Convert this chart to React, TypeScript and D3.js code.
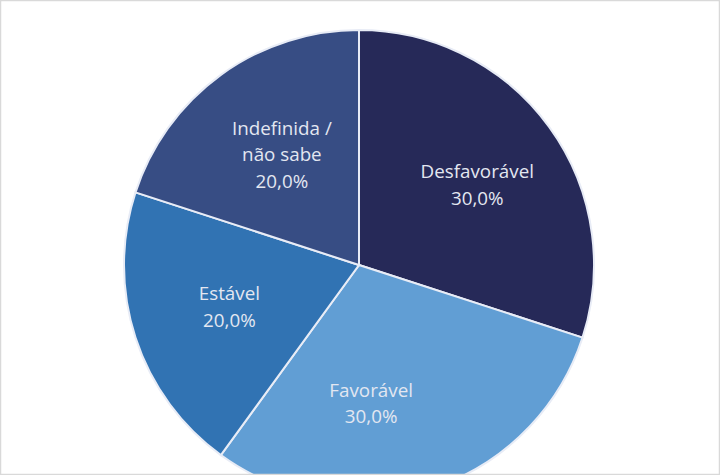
import React from "react";
import * as d3 from "d3";

const categories = ["Desfavorável", "Favorável", "Estável", "Indefinida / não sabe"];
const values = [30.0, 30.0, 20.0, 20.0];
const labelLines = [["Desfavorável"], ["Favorável"], ["Estável"], ["Indefinida /", "não sabe"]];
const colors = ["#262958", "#619ed4", "#3173b3", "#374d84"];
// label nudges relative to the arc centroid (Excel "best fit" placement)
const labelNudge = [[8, 0], [-30, 9], [0, 0], [3, 0]];

export default function App() {
  const W = 720, H = 475;
  const cx = 359, cy = 265, r = 235;
  const pie = d3.pie<number>().sort(null).value((d) => d);
  const arcs = pie(values);
  const arcGen = d3.arc<d3.PieArcDatum<number>>().innerRadius(0).outerRadius(r);
  const labelArc = d3.arc<d3.PieArcDatum<number>>().innerRadius(r * 0.58).outerRadius(r * 0.58);
  const fmt = (v: number) => v.toFixed(1).replace(".", ",") + "%";
  const lh = 26.5;
  return (
    <div style={{ position: "fixed", left: 0, top: 0 }}>
      <svg width={W} height={H} style={{ display: "block" }}>
        <rect x={0} y={0} width={W} height={H} fill="#ffffff" />
        <g transform={`translate(${cx},${cy})`}>
          {arcs.map((a, i) => (
            <path key={i} d={arcGen(a) || ""} fill={colors[i]} stroke="#e8ecf6" strokeWidth={2} />
          ))}
          {arcs.map((a, i) => {
            const [lx0, ly0] = labelArc.centroid(a);
            const lx = lx0 + labelNudge[i][0];
            const ly = ly0 + labelNudge[i][1];
            const lines = [...labelLines[i], fmt(values[i])];
            const y0 = ly - ((lines.length - 1) * lh) / 2;
            return (
              <text key={"t" + i} textAnchor="middle" fontFamily="'Open Sans', sans-serif" fontSize={18.8} fill="#e3e7f1">
                {lines.map((l, j) => (
                  <tspan key={j} x={lx} y={y0 + j * lh} dy="0.35em">{l}</tspan>
                ))}
              </text>
            );
          })}
        </g>
        <rect x={0.5} y={0.5} width={W - 1} height={H - 1} fill="none" stroke="#d9d9d9" strokeWidth={1.5} />
      </svg>
    </div>
  );
}
